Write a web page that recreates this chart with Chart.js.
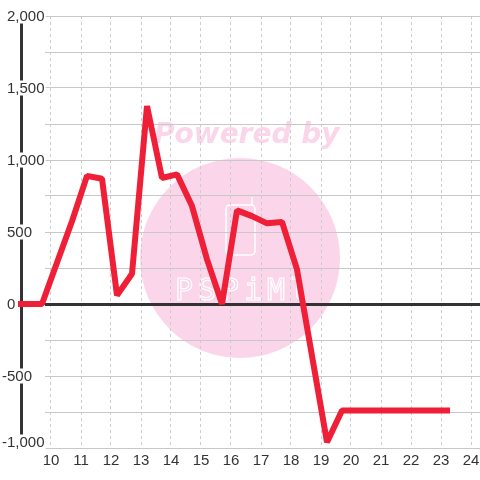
<!DOCTYPE html>
<html>
<head>
<meta charset="utf-8">
<script src="https://cdn.jsdelivr.net/npm/chart.js@4"></script>
<style>
  html, body { margin: 0; padding: 0; background: #fff; }
  canvas { display: block; }
</style>
</head>
<body>
<canvas id="chart" width="480" height="480"></canvas>
<script>
// data
const xValues = [9.0, 9.7, 10.7, 11.2, 11.7, 12.2, 12.7, 13.2, 13.7, 14.2, 14.7, 15.2, 15.7, 16.2, 16.7, 17.2, 17.7, 18.2, 19.2, 19.7, 23.2];
const yValues = [0, 0, 575, 890, 870, 60, 210, 1375, 875, 900, 680, 310, 0, 650, 610, 560, 570, 240, -960, -740, -740];
const xTicks = [10, 11, 12, 13, 14, 15, 16, 17, 18, 19, 20, 21, 22, 23, 24];
const yTicks = [-1000, -500, 0, 500, 1000, 1500, 2000];

const LABEL_FONT = '15px "Liberation Sans", Arial, sans-serif';
const GRID_START = 45;

const decorations = {
    id: 'decorations',
    beforeDraw(chart){
        const ctx = chart.ctx;
        ctx.save();
        // watermark
        ctx.fillStyle = 'rgb(251,214,234)';
        ctx.beginPath();
        ctx.arc(240, 258, 100, 0, Math.PI * 2);
        ctx.fill();
        ctx.font = 'italic bold 28px "DejaVu Sans"';
        ctx.fillText('Powered by', 154, 143);
        ctx.strokeStyle = '#fff';
        ctx.lineWidth = 1.5;
        ctx.beginPath();
        ctx.roundRect(226, 205, 29, 50, 4);
        ctx.moveTo(252, 205);
        ctx.lineTo(252, 197);
        ctx.stroke();
        ctx.font = '30px "DejaVu Sans Mono"';
        ctx.lineWidth = 1.2;
        'PSPiMl'.split('').forEach((c, i) => ctx.strokeText(c, 175 + i * 23, 300));
        ctx.restore();
    },
    beforeDatasetsDraw(chart){
        const ctx = chart.ctx;
        const x = chart.scales.x;
        const y = chart.scales.y;
        const area = chart.chartArea;
        ctx.save();
        // gridlines begin right of the y labels
        ctx.fillStyle = '#fff';
        ctx.fillRect(area.left, area.top - 2, GRID_START - area.left, area.bottom - area.top + 4);
        // dark y axis line
        ctx.fillStyle = '#333';
        ctx.fillRect(20, y.getPixelForValue(2000), 3, y.getPixelForValue(-1000) - y.getPixelForValue(2000) - 12);
        ctx.font = LABEL_FONT;
        ctx.textBaseline = 'middle';
        ctx.textAlign = 'left';
        yTicks.forEach((v, i) => {
            // lowest label is lifted off the x labels
            const py = y.getPixelForValue(v) - (i === 0 ? 6 : 0);
            const txt = Math.abs(v).toLocaleString('en-US');
            const sign = v < 0 ? '-' : '';
            const sw = ctx.measureText(sign).width;
            const w = ctx.measureText(txt).width;
            const left = 7 - sw;
            ctx.fillStyle = '#fff';
            ctx.fillRect(left - 1, py - 7.5, sw + w + 2, 15);
            ctx.fillStyle = '#333';
            ctx.fillText(sign + txt, left, py + 1);
        });
        ctx.textAlign = 'center';
        xTicks.forEach(v => {
            ctx.fillText(String(v), x.getPixelForValue(v), area.bottom + 13);
        });
        ctx.restore();
    }
};

const chart = new Chart(document.getElementById('chart'), {
    type: 'line',
    data: {
        datasets: [{
            data: xValues.map((x, i) => ({x: x, y: yValues[i]})),
            borderColor: '#ee1f36',
            borderWidth: 6,
            borderJoinStyle: 'bevel',
            borderCapStyle: 'square',
            pointRadius: 0,
            tension: 0,
            clip: false
        }]
    },
    options: {
        responsive: false,
        animation: false,
        layout: { padding: { top: 16, left: 0, right: 0, bottom: 0 } },
        plugins: { legend: { display: false }, tooltip: { enabled: false } },
        scales: {
            x: {
                type: 'linear',
                min: 10 - 34 / 30,
                max: 24.3,
                afterBuildTicks: s => { s.ticks = xTicks.map(v => ({value: v})); },
                afterFit: s => { s.height = 32; },
                grid: { color: '#cccccc', lineWidth: 1, drawTicks: false },
                border: { display: false, dash: [3, 3] },
                ticks: { display: false }
            },
            y: {
                min: -1000,
                max: 2000,
                afterFit: s => { s.width = 17; },
                ticks: { stepSize: 250, display: false },
                grid: {
                    color: c => c.tick.value === 0 ? '#333' : '#c8c8c8',
                    lineWidth: c => c.tick.value === 0 ? 3 : 1,
                    drawTicks: false
                },
                border: { display: false }
            }
        }
    },
    plugins: [decorations]
});
</script>
</body>
</html>
